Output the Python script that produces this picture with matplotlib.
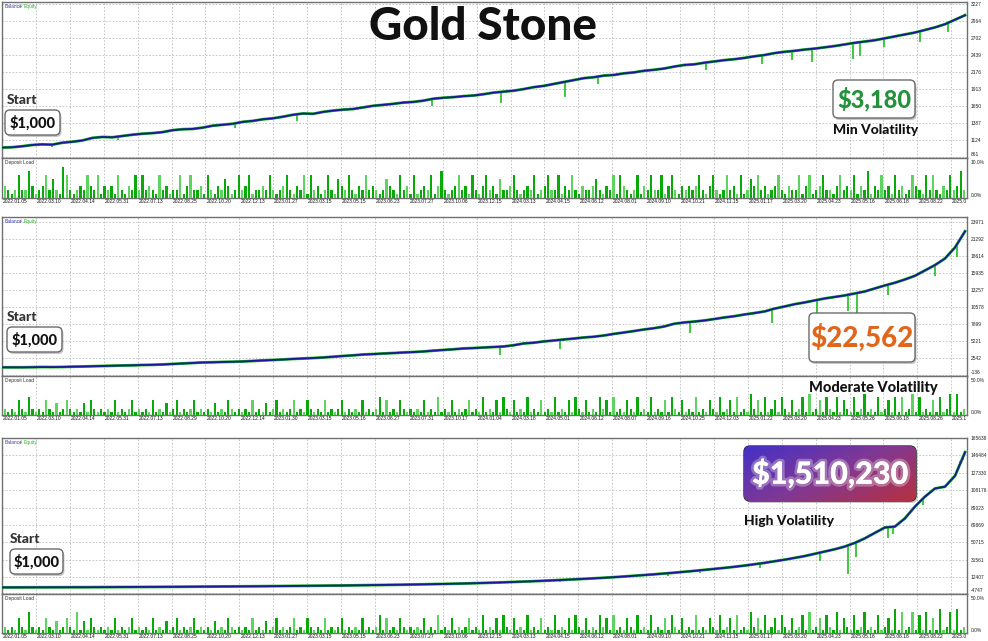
import numpy as np
import matplotlib.pyplot as plt
import matplotlib.patheffects as pe
from matplotlib.patches import FancyBboxPatch
from matplotlib.transforms import Bbox, TransformedBbox

W, H = 988, 641

# ---------------- data ----------------
# balance curves in USD, evenly spaced over the test period
min_balance = [1000, 1005, 1020, 1040, 1050, 1045, 1075, 1090, 1110, 1150,
               1165, 1160, 1180, 1200, 1215, 1225, 1240, 1270, 1285, 1290,
               1310, 1340, 1355, 1370, 1400, 1415, 1440, 1455, 1480, 1510,
               1530, 1525, 1555, 1575, 1590, 1600, 1625, 1650, 1665, 1680,
               1700, 1710, 1730, 1760, 1775, 1785, 1800, 1810, 1830, 1855,
               1870, 1885, 1910, 1940, 1960, 1990, 2020, 2050, 2080, 2095,
               2120, 2130, 2155, 2170, 2195, 2210, 2230, 2260, 2285, 2295,
               2320, 2340, 2360, 2375, 2395, 2420, 2440, 2470, 2490, 2505,
               2525, 2540, 2560, 2580, 2605, 2630, 2650, 2670, 2700, 2730,
               2760, 2790, 2830, 2870, 2920, 2990, 3060]
mod_balance = [1000, 1000, 1000, 1020, 1050, 1040, 1060, 1100, 1130, 1170,
               1210, 1250, 1290, 1320, 1370, 1400, 1450, 1530, 1610, 1690,
               1770, 1800, 1850, 1880, 1930, 2010, 2090, 2160, 2240, 2330,
               2400, 2470, 2560, 2680, 2800, 2900, 3030, 3100, 3190, 3260,
               3350, 3420, 3510, 3640, 3750, 3860, 3990, 4050, 4140, 4220,
               4300, 4500, 4780, 4900, 5100, 5250, 5410, 5560, 5730, 5850,
               6045, 6300, 6520, 6750, 7000, 7200, 7470, 7900, 8110, 8250,
               8420, 8650, 8900, 9100, 9370, 9600, 9850, 10300, 10640, 11000,
               11280, 11600, 11910, 12150, 12390, 12700, 13020, 13500, 13970, 14400,
               14920, 15500, 16350, 17200, 18250, 20000, 22560]
high_balance = [1000, 1020, 1050, 1070, 1100, 1120, 1150, 1180, 1200, 1250,
                1300, 1350, 1400, 1450, 1500, 1550, 1600, 1650, 1700, 1780,
                1850, 1920, 2000, 2080, 2150, 2220, 2300, 2400, 2500, 2600,
                2700, 2800, 2900, 3000, 3100, 3250, 3400, 3550, 3700, 3850,
                4000, 4200, 4400, 4600, 4800, 5050, 5300, 5600, 5900, 6250,
                6600, 7000, 7400, 7850, 8300, 8800, 9300, 9850, 10400, 11000,
                11600, 12300, 13000, 13800, 14600, 15400, 16300, 17200, 18200, 19200,
                20300, 21400, 22500, 23700, 25000, 26500, 28000, 29800, 31500, 33500,
                35500, 38000, 40500, 43000, 46000, 50000, 55000, 61000, 67000, 68000,
                77000, 90000, 101000, 110000, 112000, 124000, 150000]

# equity drawdown spikes: time (fraction of period) and lowest equity
min_dip_at = [0.052, 0.120, 0.241, 0.306, 0.446, 0.517, 0.583, 0.618, 0.730,
              0.788, 0.819, 0.839, 0.882, 0.889, 0.914, 0.951, 0.980]
min_dip_low = [1010, 1120, 1300, 1420, 1640, 1690, 1780, 1990, 2200,
               2300, 2360, 2330, 2380, 2420, 2560, 2640, 2800]
mod_dip_at = [0.516, 0.578, 0.713, 0.798, 0.845, 0.877, 0.886, 0.918, 0.967, 0.990]
mod_dip_low = [2875, 3900, 6500, 8100, 9500, 10000, 5250, 12400, 15500, 18500]
high_dip_at = [0.516, 0.578, 0.690, 0.723, 0.786, 0.848, 0.877, 0.885, 0.918,
               0.923, 0.939, 0.954, 0.993, 0.996]
high_dip_low = [4500, 7500, 14000, 16500, 22000, 30000, 15650, 35000, 55000,
                60000, 80000, 92000, 140000, 141000]

min_ticks = [861, 1124, 1387, 1650, 1913, 2176, 2439, 2702, 2964, 3227]
mod_ticks = [-136, 2542, 5221, 7899, 10578, 13257, 15935, 18614, 21292, 23971]
high_ticks = [-4747, 12407, 31561, 50715, 69869, 89023, 108176, 127330, 146484, 165638]

# deposit load per bar, one digit per bar (digit * unit = %)
min_load = ("3212622731" "2362521862" "1232632613" "2316213262"
            "6232162312" "2613622316" "2132531262" "3612232621"
            "2362132616" "2312621532" "6213262321" "2532162316"
            "1232613721" "2362316213" "6231522362" "1232612362"
            "2613262132" "2352132616" "3212613262" "2613621323"
            "2362136212" "6231612536" "2312362132" "2613612362"
            "2136232613" "2713262316" "2312632162" "6213262372")
mod_load = ("2121521621" "2152141252" "1214152121" "2151212512"
            "1215121412" "5121251212" "1412152121" "2151214125"
            "1212512152" "1215121251" "2121512126" "1512152121"
            "2151216121" "5121251216" "1215162151" "2161215121"
            "6121516215" "1216251612" "1521612161" "2151621512"
            "1612152161" "2516121725" "1612516215" "1261712516"
            "2161521612" "7121612516" "1612716121" "5161271712")
high_load = ("2121521721" "2152141252" "1714152121" "2151212512"
             "1215121412" "5121251212" "1412152121" "2151214125"
             "1212512152" "1215121251" "2121512126" "1512152121"
             "2151216121" "5121251216" "1215162151" "2161215121"
             "6121516215" "1216251612" "1521612161" "2151621512"
             "1612152161" "2516121725" "1612516215" "1261712516"
             "2171521612" "7121612518" "1712716171" "5181271812")

dates_a = ['2022.01.05', '2022.03.10', '2022.04.14', '2022.05.31', '2022.07.13',
           '2022.08.25', '2022.10.20', '2022.12.13', '2023.01.27', '2023.03.15',
           '2023.05.15', '2023.06.23', '2023.07.27', '2023.10.06', '2023.12.15',
           '2024.03.13', '2024.04.15', '2024.06.12', '2024.08.01', '2024.09.10',
           '2024.10.21', '2024.11.15', '2025.01.17', '2025.03.20', '2025.04.23',
           '2025.05.16', '2025.06.18', '2025.08.22', '2025.09.30']
dates_b = ['2022.01.05', '2022.03.10', '2022.04.14', '2022.05.31', '2022.07.13',
           '2022.08.29', '2022.10.20', '2022.12.14', '2023.01.30', '2023.03.15',
           '2023.05.16', '2023.06.27', '2023.07.31', '2023.10.17', '2024.01.04',
           '2024.03.18', '2024.05.01', '2024.06.12', '2024.08.07', '2024.09.16',
           '2024.10.25', '2024.12.03', '2025.01.22', '2025.03.20', '2025.04.23',
           '2025.05.26', '2025.06.18', '2025.08.26', '2025.10.02']

# ---------------- figure ----------------
fig = plt.figure(figsize=(W / 100, H / 100), dpi=100)
fig.patch.set_facecolor('white')

SMALL = ['Liberation Sans', 'DejaVu Sans']
FS = 3.5
GRID = dict(color='#bdbdbd', lw=0.6, ls=(0, (2, 2)))
FRAME = '#707070'
GREEN = '#1fbf1f'
NAVY = '#1a1a96'


def px_rect(x0, y0, x1, y1):
    return [x0 / W, 1 - y1 / H, (x1 - x0) / W, (y1 - y0) / H]


def clip_right(txt):
    box = TransformedBbox(Bbox([[0, 0], [966 / W, 1]]), fig.transFigure)
    txt.set_clip_box(box)
    txt.set_clip_on(True)


def draw_panel(top, main_h, dep_h, balance, ticks, dip_at, dip_low,
               load, unit, load_max, dates):
    ax = fig.add_axes(px_rect(2, top, 967, top + main_h))
    dep = fig.add_axes(px_rect(2, top + main_h, 967, top + main_h + dep_h))

    t = np.linspace(0, 0.998, len(balance))
    step = ticks[1] - ticks[0]
    lo = ticks[0] - step * 1.5 / 16.9
    ax.set_ylim(lo, lo + step * main_h / 16.9)
    ax.set_xlim(0, 1)

    top_at_dip = np.interp(dip_at, t, balance)
    ax.vlines(dip_at, dip_low, top_at_dip, color=GREEN, lw=1.2, zorder=3)
    ax.plot(t, balance, color=GREEN, lw=2.1, zorder=3)
    ax.plot(t, balance, color=NAVY, lw=1.35, zorder=4)

    vals = np.array([int(c) for c in load]) * unit
    bx = np.linspace(0.003, 0.997, len(vals))
    cols = ['#0aa90a' if i % 3 else '#5fd35f' for i in range(len(vals))]
    dep.bar(bx, vals, width=0.0023, color=cols, zorder=3)
    dep.set_ylim(0, load_max * 1.04)
    dep.set_xlim(0, 1)

    grid_x = np.arange(1, 29) * 33.9 / 965
    for a in (ax, dep):
        a.set_xticks(grid_x)
        a.tick_params(axis='x', length=0, labelbottom=False)
        a.grid(axis='x', **GRID)
        for s in a.spines.values():
            s.set_color(FRAME)
            s.set_linewidth(1.0)

    ax.set_yticks(ticks)
    ax.grid(axis='y', **GRID)
    ax.yaxis.tick_right()
    ax.set_yticklabels([str(v) for v in ticks], family=SMALL, fontsize=FS,
                       color='#222222')
    ax.get_yticklabels()[0].set_va('bottom')
    ax.tick_params(axis='y', length=0, pad=2.5)
    dep.set_yticks([0, load_max])
    dep.yaxis.tick_right()
    dep.set_yticklabels(['0.0%', f'{load_max:.1f}%'], family=SMALL, fontsize=FS,
                        color='#222222')
    dep.get_yticklabels()[0].set_va('bottom')
    dep.get_yticklabels()[1].set_va('top')
    dep.tick_params(axis='y', length=0, pad=2.5)

    ax.text(0.003, 0.985, 'Balance', color='#3b3bc0', fontsize=FS, family=SMALL,
            transform=ax.transAxes, va='top')
    ax.text(0.019, 0.985, '/', color='#555555', fontsize=FS, family=SMALL,
            transform=ax.transAxes, va='top')
    ax.text(0.022, 0.985, 'Equity', color='#2dbb2d', fontsize=FS, family=SMALL,
            transform=ax.transAxes, va='top')
    dep.text(0.003, 0.96, 'Deposit Load', color='#333333', fontsize=FS,
             family=SMALL, transform=dep.transAxes, va='top')

    y_lab = top + main_h + dep_h + 1
    for i, d in enumerate(dates):
        tx = fig.text((3 + 33.9 * i) / W, 1 - y_lab / H, d, fontsize=FS,
                      family=SMALL, color='#111111', ha='left', va='top')
        clip_right(tx)


draw_panel(2, 156, 40, min_balance, min_ticks, min_dip_at, min_dip_low,
           min_load, 1.0, 10.0, dates_a)
draw_panel(217, 159, 39, mod_balance, mod_ticks, mod_dip_at, mod_dip_low,
           mod_load, 4.0, 50.0, dates_b)
draw_panel(438, 156, 39, high_balance, high_ticks, high_dip_at, high_dip_low,
           high_load, 4.0, 50.0, dates_a)

# ---------------- annotations (pixel overlay) ----------------
ov = fig.add_axes([0, 0, 1, 1])
ov.set_zorder(10)
ov.set_xlim(0, W)
ov.set_ylim(H, 0)
ov.axis('off')
ov.patch.set_alpha(0)

BIG = ['Lato', 'DejaVu Sans']


def card(x0, y0, x1, y1, fc='white', ec='#6a6a6a', r=5):
    shadow = FancyBboxPatch((x0 + 1.5, y0 + 2), x1 - x0, y1 - y0,
                            boxstyle=f'round,pad=0,rounding_size={r}',
                            fc='#000000', ec='none', alpha=0.22, zorder=5)
    box = FancyBboxPatch((x0, y0), x1 - x0, y1 - y0,
                         boxstyle=f'round,pad=0,rounding_size={r}',
                         fc=fc, ec=ec, lw=1.0, zorder=6)
    ov.add_patch(shadow)
    ov.add_patch(box)
    return box


ov.text(483, 27, 'Gold Stone', fontsize=33, fontweight='black', family=BIG,
        ha='center', va='center', color='#111111')

for sx, sy, bx0, by0, bx1, by1 in [(7, 100, 5, 110, 60, 135),
                                     (7, 317, 7, 327, 62, 352),
                                     (10, 539, 10, 549, 63, 574)]:
    ov.text(sx, sy, 'Start', fontsize=10, fontweight='black', family=BIG,
            color='#333333', ha='left', va='center', zorder=7)
    card(bx0, by0, bx1, by1)
    ov.text((bx0 + bx1) / 2, (by0 + by1) / 2 + 0.5, '$1,000', fontsize=10.5,
            fontweight='black', family=BIG, color='#111111',
            ha='center', va='center', zorder=7)

card(833, 80, 915, 118)
ov.text(874, 99.5, '$3,180', fontsize=17, fontweight='black', family=BIG,
        color='#23923a', ha='center', va='center', zorder=7)
ov.text(876, 130, 'Min Volatility', fontsize=10, fontweight='black', family=BIG,
        color='#111111', ha='center', va='center', zorder=7)

card(809, 313, 915, 362)
ov.text(862, 337.5, '$22,562', fontsize=20, fontweight='black', family=BIG,
        color='#e0661c', ha='center', va='center', zorder=7)
ov.text(873, 388, 'Moderate Volatility', fontsize=10.5, fontweight='black',
        family=BIG, color='#111111', ha='center', va='center', zorder=7)

grad_box = card(744, 446, 916, 501, fc='none', ec='#2a2a2a', r=6)
u = np.linspace(0, 1, 200)[None, :]
v = np.linspace(0, 1, 60)[:, None]
s = np.clip(0.6 * u + 0.4 * v, 0, 1)[..., None]
c0 = np.array([0.27, 0.19, 0.78])
c1 = np.array([0.50, 0.22, 0.58])
c2 = np.array([0.72, 0.19, 0.25])
img = np.where(s < 0.5, c0 + (c1 - c0) * (s / 0.5), c1 + (c2 - c1) * ((s - 0.5) / 0.5))
im = ov.imshow(img, extent=(744, 916, 501, 446), aspect='auto', zorder=6.5)
im.set_clip_path(grad_box)
ov.set_xlim(0, W)
ov.set_ylim(H, 0)
ov.text(830, 474, '$1,510,230', fontsize=22, fontweight='black', family=BIG,
        color='white', ha='center', va='center', zorder=8,
        path_effects=[pe.withStroke(linewidth=4, foreground=(1, 1, 1, 0.3))])
ov.text(744, 521, 'High Volatility', fontsize=10, fontweight='black', family=BIG,
        color='#111111', ha='left', va='center', zorder=7)

plt.savefig('out.png', dpi=100, facecolor='white')
